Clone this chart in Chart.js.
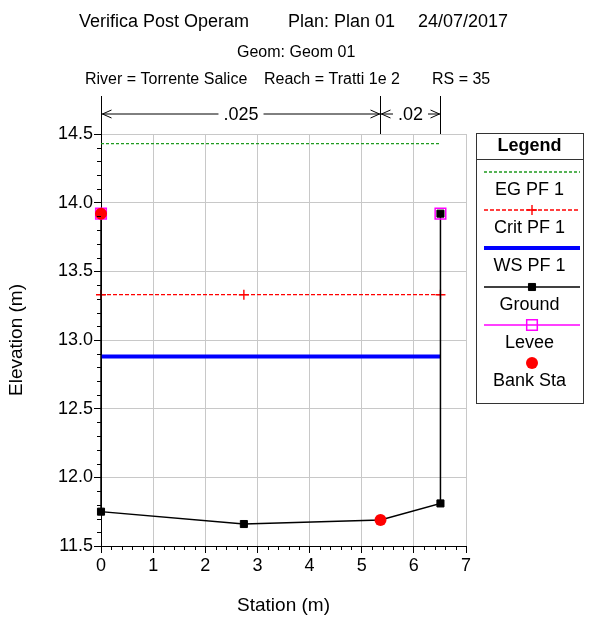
<!DOCTYPE html>
<html>
<head>
<meta charset="utf-8">
<script src="https://cdn.jsdelivr.net/npm/chart.js@4"></script>
<style>
  html, body { margin: 0; padding: 0; background: #fff; }
  #wrap { width: 595px; height: 618px; }
</style>
</head>
<body>
<div id="wrap"><canvas id="grafico" width="595" height="618"></canvas></div>
<script>
// Dati della sezione (RS = 35)
const groundSta = [0, 0, 2.74, 5.36, 6.51, 6.51];
const groundElev = [13.92, 11.75, 11.66, 11.69, 11.81, 13.92];
const leveeSta = [0, 6.51];
const leveeElev = [13.92, 13.92];
const bankSta = [0, 5.36];
const bankElev = [13.92, 11.69];
const wsSta = [0, 6.51];
const egElev = [14.43, 14.43];
const wsElev = [12.88, 12.88];
const critSta = [0, 2.74, 6.51];
const critElev = [13.33, 13.33, 13.33];
const nBounds = [0, 5.36, 6.51];
const nValues = ['.025', '.02'];
const xTicks = [0, 1, 2, 3, 4, 5, 6, 7];
const yTicks = [11.5, 12.0, 12.5, 13.0, 13.5, 14.0, 14.5];

Chart.defaults.font.family = "'Liberation Sans', Arial, sans-serif";
Chart.defaults.color = '#000';

function punti(xs, ys) {
    return xs.map((x, i) => ({ x: x, y: ys[i] }));
}

// disegna un marker (per la legenda)
function marker(ctx, stile, x, y, r, fill, stroke, lw) {
    ctx.save();
    ctx.lineWidth = lw;
    ctx.strokeStyle = stroke;
    ctx.fillStyle = fill;
    ctx.setLineDash([]);
    ctx.beginPath();
    if (stile === 'circle') {
        ctx.arc(x, y, r, 0, Math.PI * 2);
    } else if (stile === 'rect') {
        const s = r * Math.SQRT1_2;
        ctx.rect(x - s, y - s, 2 * s, 2 * s);
    } else if (stile === 'cross') {
        ctx.moveTo(x - r, y); ctx.lineTo(x + r, y);
        ctx.moveTo(x, y - r); ctx.lineTo(x, y + r);
    }
    if (stile !== 'cross' && fill !== 'transparent') ctx.fill();
    if (lw > 0) ctx.stroke();
    ctx.restore();
}

// Titoli in alto
const titoli = {
    id: 'titoli',
    afterDraw(chart) {
        const ctx = chart.ctx;
        ctx.save();
        ctx.fillStyle = '#000';
        ctx.textAlign = 'left';
        ctx.textBaseline = 'alphabetic';
        ctx.font = "18px 'Liberation Sans', Arial, sans-serif";
        ctx.fillText('Verifica Post Operam', 79, 27);
        ctx.fillText('Plan: Plan 01', 288, 27);
        ctx.fillText('24/07/2017', 418, 27);
        ctx.font = "16px 'Liberation Sans', Arial, sans-serif";
        ctx.fillText('Geom: Geom 01', 237, 57);
        ctx.fillText('River = Torrente Salice', 85, 84);
        ctx.fillText('Reach = Tratti 1e 2', 264, 84);
        ctx.fillText('RS = 35', 432, 84);
        ctx.restore();
    }
};

// Tacche secondarie sugli assi
const tacche = {
    id: 'tacche',
    afterDraw(chart) {
        const ctx = chart.ctx;
        const sx = chart.scales.x, sy = chart.scales.y;
        const a = chart.chartArea;
        ctx.save();
        ctx.strokeStyle = '#000';
        ctx.lineWidth = 1;
        ctx.beginPath();
        for (let k = 0; k <= 35; k++) {
            if (k % 5 === 0) continue;
            const px = Math.round(sx.getPixelForValue(k * 0.2)) + 0.5;
            ctx.moveTo(px, a.bottom);
            ctx.lineTo(px, a.bottom + 4);
        }
        for (let k = 0; k <= 30; k++) {
            if (k % 5 === 0) continue;
            const py = Math.round(sy.getPixelForValue(11.5 + k * 0.1)) + 0.5;
            ctx.moveTo(a.left - 4, py);
            ctx.lineTo(a.left, py);
        }
        ctx.stroke();
        ctx.restore();
    }
};

// Coefficienti di Manning sopra il grafico
const manning = {
    id: 'manning',
    afterDraw(chart) {
        const ctx = chart.ctx;
        const sx = chart.scales.x;
        const top = chart.chartArea.top;
        const yTop = 96, yArr = 114;
        const px = v => Math.round(sx.getPixelForValue(v)) + 0.5;
        ctx.save();
        ctx.strokeStyle = '#000';
        ctx.fillStyle = '#000';
        ctx.lineWidth = 1;
        ctx.beginPath();
        nBounds.forEach(b => {
            ctx.moveTo(px(b), yTop);
            ctx.lineTo(px(b), top);
        });
        ctx.stroke();
        ctx.font = "18px 'Liberation Sans', Arial, sans-serif";
        ctx.textAlign = 'center';
        ctx.textBaseline = 'middle';
        nValues.forEach((t, i) => {
            const x0 = px(nBounds[i]), x1 = px(nBounds[i + 1]);
            const mid = (x0 + x1) / 2;
            const tw = ctx.measureText(t).width;
            ctx.beginPath();
            ctx.moveTo(x0, yArr); ctx.lineTo(mid - tw / 2 - 5, yArr);
            ctx.moveTo(mid + tw / 2 + 5, yArr); ctx.lineTo(x1, yArr);
            // frecce
            ctx.moveTo(x0 + 10, yArr - 4); ctx.lineTo(x0 + 1, yArr); ctx.lineTo(x0 + 10, yArr + 4);
            ctx.moveTo(x1 - 10, yArr - 4); ctx.lineTo(x1 - 1, yArr); ctx.lineTo(x1 - 10, yArr + 4);
            ctx.stroke();
            ctx.fillText(t, mid, yArr + 1);
        });
        ctx.restore();
    }
};

// Legenda a destra
const legenda = {
    id: 'legenda',
    afterDraw(chart) {
        const ctx = chart.ctx;
        const bx = 476, by = 133, bw = 107, bh = 270;
        ctx.save();
        ctx.strokeStyle = '#333';
        ctx.lineWidth = 1;
        ctx.strokeRect(bx + 0.5, by + 0.5, bw, bh);
        ctx.beginPath();
        ctx.moveTo(bx, by + 26.5);
        ctx.lineTo(bx + bw, by + 26.5);
        ctx.stroke();
        ctx.fillStyle = '#000';
        ctx.textAlign = 'center';
        ctx.textBaseline = 'middle';
        ctx.font = "bold 18px 'Liberation Sans', Arial, sans-serif";
        ctx.fillText('Legend', bx + bw / 2, by + 13);
        ctx.font = "18px 'Liberation Sans', Arial, sans-serif";
        chart.data.datasets.forEach((ds, i) => {
            const ly = 172 + i * 38.2;
            if (ds.legendLine) {
                ctx.save();
                ctx.strokeStyle = ds.borderColor;
                ctx.lineWidth = ds.borderWidth;
                ctx.setLineDash(ds.borderDash || []);
                ctx.beginPath();
                ctx.moveTo(484, Math.round(ly));
                ctx.lineTo(580, Math.round(ly));
                ctx.stroke();
                ctx.restore();
            }
            if (ds.pointRadius > 0) {
                marker(ctx, ds.pointStyle, 532, Math.round(ly), ds.pointRadius,
                    ds.pointBackgroundColor, ds.pointBorderColor, ds.pointBorderWidth);
            }
            ctx.fillStyle = '#000';
            ctx.fillText(ds.label, bx + bw / 2, ly + 18);
        });
        ctx.restore();
    }
};

new Chart(document.getElementById('grafico'), {
    type: 'line',
    data: {
        datasets: [
            {
                label: 'EG PF 1', data: punti(wsSta, egElev), order: 5,
                borderColor: '#1f9a1f', borderWidth: 1.4, borderDash: [3, 2],
                pointRadius: 0, legendLine: true
            },
            {
                label: 'Crit PF 1', data: punti(critSta, critElev), order: 3,
                borderColor: '#ff0000', borderWidth: 1.3, borderDash: [4, 2],
                pointStyle: 'cross', pointRadius: 5, pointBorderWidth: 1.4,
                pointBorderColor: '#ff0000', pointBackgroundColor: '#ff0000', legendLine: true
            },
            {
                label: 'WS PF 1', data: punti(wsSta, wsElev), order: 4,
                borderColor: '#0000ff', borderWidth: 4,
                pointRadius: 0, legendLine: true
            },
            {
                label: 'Ground', data: punti(groundSta, groundElev), order: 2,
                borderColor: '#000', borderWidth: 1.5,
                pointStyle: 'rect', pointRadius: 5, pointBorderWidth: 1,
                pointBorderColor: '#000', pointBackgroundColor: '#000', legendLine: true
            },
            {
                label: 'Levee', data: punti(leveeSta, leveeElev), order: 1,
                showLine: false, borderColor: '#ff00ff', borderWidth: 1.5,
                pointStyle: 'rect', pointRadius: 7.5, pointBorderWidth: 1.5,
                pointBorderColor: '#ff00ff', pointBackgroundColor: 'transparent', legendLine: true
            },
            {
                label: 'Bank Sta', data: punti(bankSta, bankElev), order: 0,
                showLine: false, borderColor: '#ff0000', borderWidth: 0,
                pointStyle: 'circle', pointRadius: 6, pointBorderWidth: 0,
                pointBorderColor: '#ff0000', pointBackgroundColor: '#ff0000', legendLine: false
            }
        ]
    },
    options: {
        responsive: false,
        animation: false,
        events: [],
        clip: false,
        layout: { padding: { left: 0, top: 134, right: 129, bottom: 0 } },
        plugins: { legend: { display: false }, tooltip: { enabled: false }, title: { display: false } },
        scales: {
            x: {
                type: 'linear', min: 0, max: 7,
                afterBuildTicks: s => { s.ticks = xTicks.map(v => ({ value: v })); },
                afterFit: s => { s.height = 72; },
                ticks: { font: { size: 18 }, color: '#000', padding: 2, maxRotation: 0 },
                grid: { color: '#c8c8c8', tickColor: '#000', tickLength: 7 },
                border: { color: '#000', width: 1 },
                title: { display: true, text: 'Station (m)', font: { size: 19 }, color: '#000', padding: { top: 0, bottom: 1 } }
            },
            y: {
                type: 'linear', min: 11.5, max: 14.5,
                afterBuildTicks: s => { s.ticks = yTicks.map(v => ({ value: v })); },
                afterFit: s => { s.width = 101; },
                ticks: { font: { size: 18 }, color: '#000', padding: 1, callback: v => v.toFixed(1) },
                grid: { color: '#c8c8c8', tickColor: '#000', tickLength: 7 },
                border: { color: '#000', width: 1 },
                title: { display: true, text: 'Elevation (m)', font: { size: 19 }, color: '#000', padding: { top: 5, bottom: 0 } }
            }
        }
    },
    plugins: [titoli, tacche, manning, legenda]
});
</script>
</body>
</html>
